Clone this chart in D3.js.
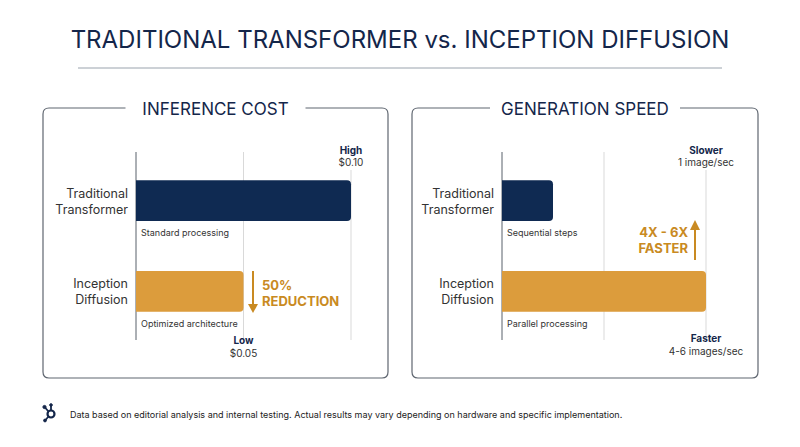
<!DOCTYPE html>
<html><head><meta charset="utf-8">
<script src="https://cdn.jsdelivr.net/npm/d3@7"></script>
<style>body{margin:0;background:#fff}text{font-family:Inter,"Noto Sans",sans-serif}</style>
</head><body><svg width="800" height="447"></svg>
<script>
const categories = ['Traditional Transformer', 'Inception Diffusion']
const costValues = [0.10, 0.05]
const costNotes = ['Standard processing', 'Optimized architecture']
const speedValues = [1, 4]
const speedNotes = ['Sequential steps', 'Parallel processing']
const colors = ['#0f2a52', '#dc9c3c']
const navy = '#14264a', gold = '#c98a22', grey = '#d9d9d9'

const svg = d3.select('svg')
svg.append('text').attr('x', 400).attr('y', 48).attr('text-anchor', 'middle')
  .attr('font-size', 24).attr('fill', navy).text('TRADITIONAL TRANSFORMER vs. INCEPTION DIFFUSION')
svg.append('line').attr('x1', 78).attr('x2', 722).attr('y1', 68).attr('y2', 68).attr('stroke', '#9aa3ad')

function panel(x0, x1, title, titleW, axisX, endX, domain, values, notes) {
  const g = svg.append('g')
  const cx = (x0 + x1) / 2
  g.append('path').attr('fill', 'none').attr('stroke', '#5f6670').attr('stroke-width', 1.2)
    .attr('d', `M${cx - titleW / 2},108 H${x0 + 6} Q${x0},108 ${x0},114 V372 Q${x0},378 ${x0 + 6},378 H${x1 - 6} Q${x1},378 ${x1},372 V114 Q${x1},108 ${x1 - 6},108 H${cx + titleW / 2}`)
  g.append('text').attr('x', cx).attr('y', 115).attr('text-anchor', 'middle')
    .attr('font-size', 17).attr('fill', navy).text(title)
  const x = d3.scaleLinear().domain(domain).range([axisX, endX])
  const y = d3.scaleBand().domain(categories).range([162, 330]).paddingInner(0.55).paddingOuter(0.2)
  const mid = (domain[0] + domain[1]) / 2
  g.append('line').attr('x1', x(mid)).attr('x2', x(mid)).attr('y1', 152).attr('y2', 340).attr('stroke', grey)
  g.append('line').attr('x1', x(domain[1])).attr('x2', x(domain[1]))
    .attr('y1', 170).attr('y2', 340).attr('stroke', grey)
  g.append('line').attr('x1', axisX).attr('x2', axisX).attr('y1', 152).attr('y2', 340).attr('stroke', '#59606a')
  categories.forEach((c, i) => {
    const yy = y(c), h = y.bandwidth()
    g.append('path').attr('fill', colors[i])
      .attr('d', `M${axisX},${yy} H${x(values[i]) - 4} Q${x(values[i])},${yy} ${x(values[i])},${yy + 4} V${yy + h - 4} Q${x(values[i])},${yy + h} ${x(values[i]) - 4},${yy + h} H${axisX} Z`)
    const words = c.split(' ')
    words.forEach((w, k) => g.append('text').attr('x', axisX - 8).attr('y', yy + h / 2 - 3 + k * 16)
      .attr('text-anchor', 'end').attr('font-size', 12.5).attr('fill', '#333').text(w))
    g.append('text').attr('x', axisX + 5).attr('y', yy + h + 15).attr('font-size', 9).attr('fill', '#333').text(notes[i])
  })
  return { g, x, y }
}

const c = panel(43, 388, 'INFERENCE COST', 180, 136, 351, [0, 0.10], costValues, costNotes)
c.g.append('text').attr('x', c.x(0.10)).attr('y', 154).attr('text-anchor', 'middle').attr('font-size', 10).attr('font-weight', 700).attr('fill', navy).text('High')
c.g.append('text').attr('x', c.x(0.10)).attr('y', 166).attr('text-anchor', 'middle').attr('font-size', 10).attr('fill', '#333').text('$' + costValues[0].toFixed(2))
c.g.append('text').attr('x', c.x(0.05)).attr('y', 344).attr('text-anchor', 'middle').attr('font-size', 10).attr('font-weight', 700).attr('fill', navy).text('Low')
c.g.append('text').attr('x', c.x(0.05)).attr('y', 357).attr('text-anchor', 'middle').attr('font-size', 10).attr('fill', '#333').text('$' + costValues[1].toFixed(2))
const ay = c.y(categories[1])
c.g.append('line').attr('x1', 253).attr('x2', 253).attr('y1', ay).attr('y2', ay + 36).attr('stroke', gold).attr('stroke-width', 2)
c.g.append('path').attr('fill', gold).attr('d', `M248,${ay + 33} L258,${ay + 33} L253,${ay + 42} Z`)
c.g.append('text').attr('x', 262).attr('y', ay + 19).attr('font-size', 13).attr('font-weight', 700).attr('fill', gold).text('50%')
c.g.append('text').attr('x', 262).attr('y', ay + 35).attr('font-size', 13).attr('font-weight', 700).attr('fill', gold).text('REDUCTION')

const s = panel(412, 758, 'GENERATION SPEED', 190, 502, 706, [0, 4], speedValues, speedNotes)
s.g.append('text').attr('x', s.x(4)).attr('y', 154).attr('text-anchor', 'middle').attr('font-size', 10).attr('font-weight', 700).attr('fill', navy).text('Slower')
s.g.append('text').attr('x', s.x(4)).attr('y', 166).attr('text-anchor', 'middle').attr('font-size', 10).attr('fill', '#333').text('1 image/sec')
s.g.append('text').attr('x', s.x(4)).attr('y', 342).attr('text-anchor', 'middle').attr('font-size', 10).attr('font-weight', 700).attr('fill', navy).text('Faster')
s.g.append('text').attr('x', s.x(4)).attr('y', 355).attr('text-anchor', 'middle').attr('font-size', 10).attr('fill', '#333').text('4-6 images/sec')
s.g.append('line').attr('x1', 695).attr('x2', 695).attr('y1', 260).attr('y2', 226).attr('stroke', gold).attr('stroke-width', 2)
s.g.append('path').attr('fill', gold).attr('d', 'M690,230 L700,230 L695,220 Z')
s.g.append('text').attr('x', 688).attr('y', 237).attr('text-anchor', 'end').attr('font-size', 13).attr('font-weight', 700).attr('fill', gold).text('4X - 6X')
s.g.append('text').attr('x', 688).attr('y', 253).attr('text-anchor', 'end').attr('font-size', 13).attr('font-weight', 700).attr('fill', gold).text('FASTER')

// footer logo
const lg = svg.append('g').attr('transform', 'translate(51,414)').attr('fill', navy).attr('stroke', navy)
lg.append('circle').attr('r', 3.5).attr('fill', 'none').attr('stroke-width', 2.2)
lg.append('line').attr('x1', 0).attr('y1', -3.5).attr('x2', 0).attr('y2', -8).attr('stroke-width', 1.8)
lg.append('line').attr('x1', -2.5).attr('y1', -2.5).attr('x2', -6).attr('y2', -6.5).attr('stroke-width', 1.8)
lg.append('line').attr('x1', -2.5).attr('y1', 2.5).attr('x2', -5.5).attr('y2', 6).attr('stroke-width', 1.8)
lg.append('circle').attr('cx', -6.5).attr('cy', -7).attr('r', 1.6)
lg.append('circle').attr('cx', 0).attr('cy', -9).attr('r', 1.3)
lg.append('circle').attr('cx', -6).attr('cy', 6.5).attr('r', 1.4)
svg.append('text').attr('x', 70).attr('y', 418).attr('font-size', 9).attr('fill', '#222')
  .text('Data based on editorial analysis and internal testing. Actual results may vary depending on hardware and specific implementation.')
</script></body></html>
